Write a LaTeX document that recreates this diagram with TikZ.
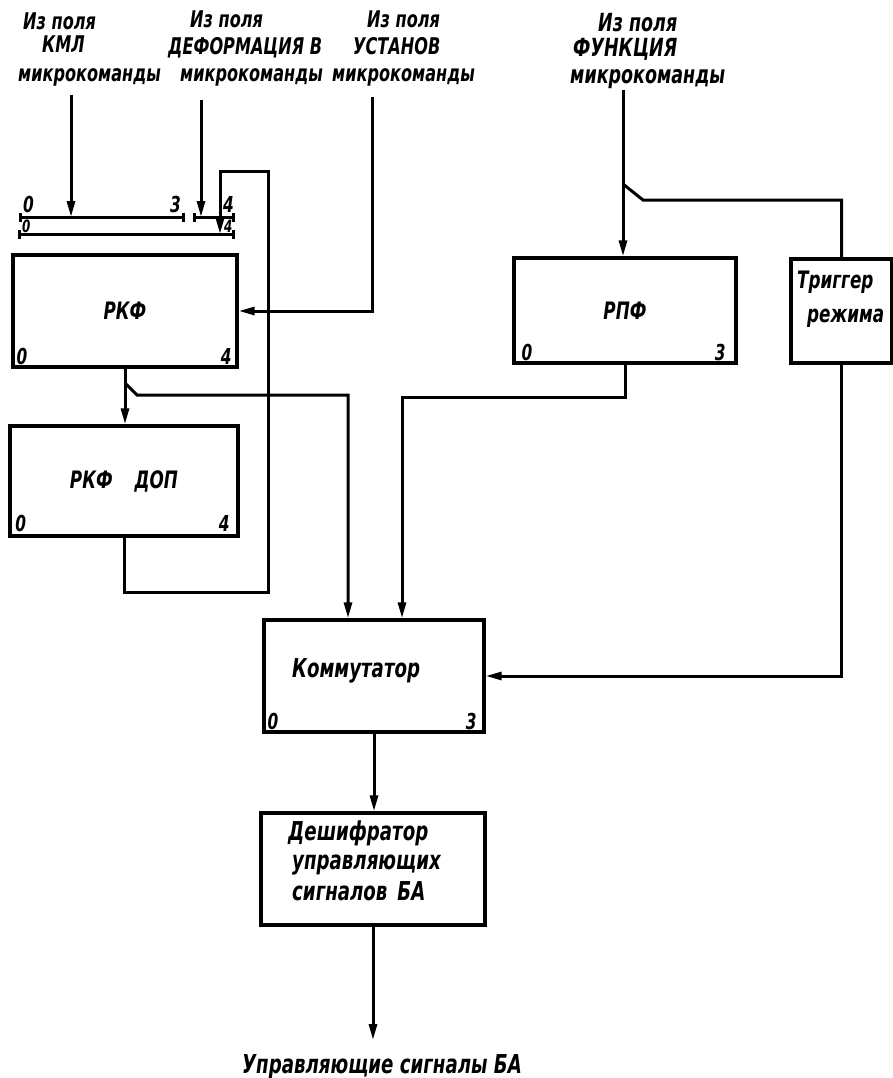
\documentclass[tikz,border=0pt]{standalone}
\usepackage{fontspec}
\newfontfamily\gost{DejaVu Sans}[FakeStretch=0.70]
\usetikzlibrary{arrows.meta,calc}
% drafting-style lettering at a given size
\newcommand\gf[1]{\gost\bfseries\itshape\fontsize{#1}{#1}\selectfont}

\begin{document}
\begin{tikzpicture}[x=1pt,y=-1pt,
  box/.style={draw, line width=3.4pt, inner sep=0pt, font=\gf{24}},
  txt/.style={inner sep=0pt, anchor=base west, font=\gf{#1}},
  txt/.default=23,
  num/.style={inner sep=0pt, font=\gf{#1}},
  num/.default=22,
  wire/.style={line width=3pt},
  arr/.style={wire, -{Triangle[length=16pt,width=8pt]}},
  bus/.style={line width=3pt, {Bar[width=9pt]}-{Bar[width=9pt]}}]
\useasboundingbox (0,0) rectangle (893,1078);

% ---- blocks ----
\node[box, minimum width=224pt, minimum height=112pt] (rkf) at (125,311) {РКФ};
\node[box, minimum width=228pt, minimum height=110pt] (rkfdop) at (124,481) {РКФ\hspace{22pt}ДОП};
\node[box, minimum width=222pt, minimum height=105pt] (rpf) at (625,310.5) {РПФ};
\node[box, minimum width=101pt, minimum height=104pt] (trig) at (841.5,311) {};
\node[box, minimum width=220pt, minimum height=112pt] (komm) at (374,676) {};
\node[box, minimum width=224pt, minimum height=112pt] (dec) at (373,869) {};

% ---- block texts ----
\node[txt=24] (trigA) at (797,288) {Триггер};
\node[txt=24] (trigB) at (807,322) {режима};
\node[txt=26] (kommT) at (292,677) {Коммутатор};
\node[txt=26] (decA) at (288,840) {Дешифратор};
\node[txt=26] (decB) at (292,869) {управляющих};
\node[txt=26] (decC) at (292,900) {сигналов\hspace{10pt}БА};

% ---- bit numbers in blocks ----
\node[num, anchor=base west] (rkf0) at ([shift={(5pt,4pt)}]rkf.south west) {0};
\node[num, anchor=base east] (rkf4) at ([shift={(-7pt,4pt)}]rkf.south east) {4};
\node[num, anchor=base west] (dop0) at ([shift={(7pt,6pt)}]rkfdop.south west) {0};
\node[num, anchor=base east] (dop4) at ([shift={(-10pt,6pt)}]rkfdop.south east) {4};
\node[num, anchor=base west] (rpf0) at ([shift={(9pt,4pt)}]rpf.south west) {0};
\node[num, anchor=base east] (rpf3) at ([shift={(-12pt,4pt)}]rpf.south east) {3};
\node[num, anchor=base west] (komm0) at ([shift={(5pt,4pt)}]komm.south west) {0};
\node[num, anchor=base east] (komm3) at ([shift={(-9pt,4pt)}]komm.south east) {3};

% ---- input register buses ----
\coordinate (a0) at (19,217);
\coordinate (a3) at (185,217);
\coordinate (b3) at (193,217);
\coordinate (b4) at (235,217);
\coordinate (c0) at (18,234);
\coordinate (c4) at (235,234);
\draw[bus] (a0) -- (a3);
\draw[bus] (b3) -- (b4);
\draw[bus] (c0) -- (c4);
\node[num=22, anchor=base west] (a0n) at (23,212) {0};
\node[num=22, anchor=base west] (a3n) at (170,212) {3};
\node[num=22, anchor=base west] (b4n) at (223,212) {4};
\node[num=17, anchor=base west] (c0n) at (22,232) {0};
\node[num=17, anchor=base west] (c4n) at (224,232) {4};

% ---- source captions ----
\node[txt] (s1a) at (23,30) {Из поля};
\node[txt] (s1b) at (42,53) {КМЛ};
\node[txt] (s1c) at (18,82) {микрокоманды};
\node[txt] (s2a) at (190,28) {Из поля};
\node[txt] (s2b) at (168,55) {ДЕФОРМАЦИЯ В};
\node[txt] (s2c) at (180,82) {микрокоманды};
\node[txt] (s3a) at (367,28) {Из поля};
\node[txt] (s3b) at (353,55) {УСТАНОВ};
\node[txt] (s3c) at (332,82) {микрокоманды};
\node[txt=25] (s4a) at (598,32) {Из поля};
\node[txt=25] (s4b) at (573,57) {ФУНКЦИЯ};
\node[txt=25] (s4c) at (570,84) {микрокоманды};

% ---- connectors ----
\coordinate (kmlsrc) at (71,95);
\coordinate (defsrc) at (201,100);
\coordinate (ustsrc) at (372,97);
\coordinate (funsrc) at (623,90);
\draw[arr] (kmlsrc) -- (kmlsrc |- a0);
\draw[arr] (defsrc) -- (defsrc |- b3);
\draw[arr] (ustsrc) |- (rkf.east);
\draw[arr] (funsrc) -- (funsrc |- rpf.north);
\coordinate (fbr) at (623,184);
\draw[wire] (fbr) -- ++(20,16) -| (trig.north);

% feedback from the extra register back to the lower bus
\coordinate (lpb) at (268,592);
\coordinate (lpt) at (220,172);
\draw[arr] (rkfdop.south) |- (lpb) |- (lpt) -- (lpt |- c0);

\draw[arr] (rkf.south) -- (rkf.south |- rkfdop.north);
\coordinate (rbr) at (125,383);
\draw[arr] (rbr) -- ++(12,12) -| ([xshift=-26pt]komm.north);
\draw[arr] (rpf.south) -- ++(0,33) -| ([xshift=28pt]komm.north);
\draw[arr] (trig.south) |- (komm.east);
\draw[arr] (komm.south) -- (komm.south |- dec.north);
\coordinate (outend) at (373,1040);
\draw[arr] (dec.south) -- (outend);
\node[txt=26] (outT) at (242,1073) {Управляющие сигналы БА};
\end{tikzpicture}
\end{document}
